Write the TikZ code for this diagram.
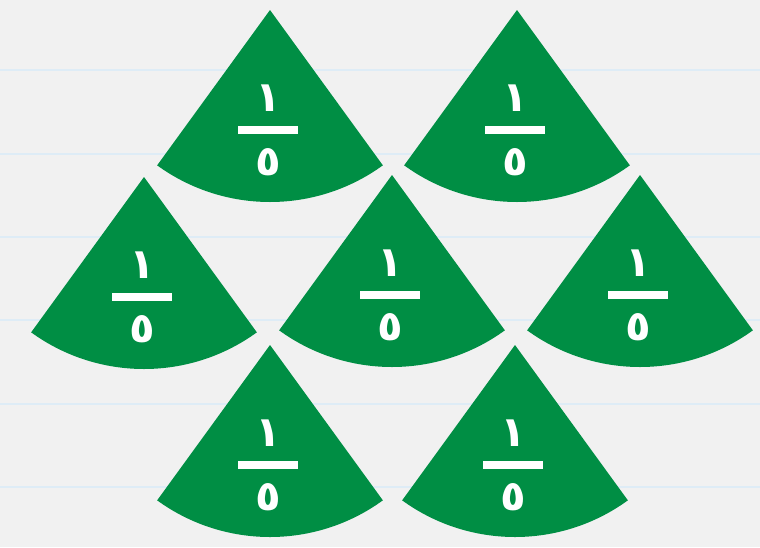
\documentclass[tikz,border=0pt]{standalone}
\usepackage{fontspec}
\newfontfamily\arabicfont[Script=Arabic]{DejaVu Sans}
\TeXXeTstate=1
\definecolor{sectorgreen}{RGB}{0,142,68}
\definecolor{bggray}{RGB}{241,241,241}
\definecolor{ruleblue}{RGB}{222,236,246}
\tikzset{
  sectorshape/.style={fill=sectorgreen},
  digit/.style={text=white, font=\arabicfont\bfseries\fontsize{42}{42}\selectfont, inner sep=0pt},
  fracbar/.style={fill=white, inner sep=0pt, minimum width=60pt, minimum height=8pt},
  ruling/.style={draw=ruleblue, line width=2.5pt}
}
\newcommand\fifthsector[3]{%
  \fill[sectorshape] (#2,#3) -- ++(54:192) arc[start angle=54,end angle=126,radius=192] -- cycle;
  \node[digit] (#1-num) at (#2-2,#3+88) {\beginR ١\endR};
  \node[fracbar] (#1-bar) at (#2-2,#3+120) {};
  \node[digit] (#1-den) at (#2-2,#3+152) {\beginR ٥\endR};
}
\begin{document}
\begin{tikzpicture}[x=1pt,y=-1pt]
  \fill[bggray] (0,0) rectangle (760,547);
  \useasboundingbox (0,0) rectangle (760,547);
  \foreach \yy in {70,154,237,320,404,487} {
    \draw[ruling] (0,\yy) -- (760,\yy);
  }
  \fifthsector{s1}{270}{10}
  \fifthsector{s2}{517}{10}
  \fifthsector{s3}{144}{177}
  \fifthsector{s4}{392}{175}
  \fifthsector{s5}{640}{175}
  \fifthsector{s6}{270}{345}
  \fifthsector{s7}{515}{345}
\end{tikzpicture}
\end{document}
